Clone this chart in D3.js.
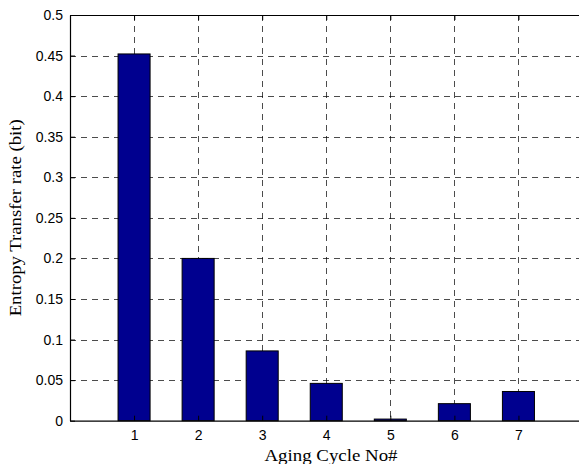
<!DOCTYPE html>
<html>
<head>
<meta charset="utf-8">
<script src="https://cdn.jsdelivr.net/npm/d3@7"></script>
<style>
  body { margin: 0; background: #fff; }
  .tick text { font-family: Arial, "Liberation Sans", sans-serif; font-size: 14px; fill: #000; }
  .lbl { font-family: "Times New Roman", "Liberation Serif", serif; font-size: 16px; fill: #000; }
</style>
</head>
<body>
<div id="chart"></div>
<script>
// data
var cycles = [1, 2, 3, 4, 5, 6, 7];
var entropy = [0.452, 0.200, 0.086, 0.046, 0.002, 0.021, 0.036];
var yTicks = [0, 0.05, 0.1, 0.15, 0.2, 0.25, 0.3, 0.35, 0.4, 0.45, 0.5];

var width = 579, height = 464;
var mLeft = 70, mTop = 15, mRight = 582.5, mBottom = 420.7;

var svg = d3.select('#chart')
            .append('svg')
            .attr('width', width)
            .attr('height', height)

var x = d3.scaleLinear().domain([0, 8]).range([mLeft, mRight]);
var y = d3.scaleLinear().domain([0, 0.5]).range([mBottom, mTop]);

// grid
var grid = svg.append('g')
    .attr('stroke', '#000')
    .attr('stroke-width', 1)
    .attr('stroke-dasharray', '6,5')
    .attr('stroke-opacity', 0.7)

grid.selectAll('.gx')
    .data(cycles)
    .enter()
    .append('line')
    .attr('x1', d => Math.round(x(d)) + 0.5)
    .attr('x2', d => Math.round(x(d)) + 0.5)
    .attr('y1', mTop)
    .attr('y2', mBottom)

grid.selectAll('.gy')
    .data(yTicks.slice(1, -1))
    .enter()
    .append('line')
    .attr('x1', mLeft)
    .attr('x2', mRight)
    .attr('y1', d => Math.round(y(d)) + 0.5)
    .attr('y2', d => Math.round(y(d)) + 0.5)

// bars
var barW = x(0.5) - x(0);
svg.selectAll('.bar')
    .data(entropy)
    .enter()
    .append('rect')
    .attr('class', 'bar')
    .attr('x', (d, i) => x(cycles[i]) - barW / 2)
    .attr('y', d => y(d))
    .attr('width', barW)
    .attr('height', d => y(0) - y(d))
    .attr('fill', '#00008f')
    .attr('stroke', '#000')
    .attr('stroke-width', 1)

// axes
var xAxis = d3.axisBottom(x).tickValues(cycles).tickSizeInner(-5).tickSizeOuter(0).tickPadding(9);
svg.append('g')
    .attr('transform', `translate(0,${mBottom})`)
    .call(xAxis)

var xTop = d3.axisTop(x).tickValues(cycles).tickSizeInner(-5).tickSizeOuter(0).tickFormat('');
svg.append('g')
    .attr('transform', `translate(0,${mTop})`)
    .call(xTop)

var yAxis = d3.axisLeft(y).tickValues(yTicks).tickSizeInner(-5).tickSizeOuter(0).tickPadding(7)
    .tickFormat(d => d === 0 ? '0' : String(d));
svg.append('g')
    .attr('transform', `translate(${mLeft},0)`)
    .call(yAxis)

svg.selectAll('.domain').attr('stroke', '#000').attr('stroke-width', 1.2);
svg.selectAll('.tick line').attr('stroke', '#000');

// labels
svg.append('text')
    .attr('class', 'lbl')
    .attr('x', 331)
    .attr('y', 461)
    .attr('text-anchor', 'middle')
    .attr('textLength', 133)
    .attr('lengthAdjust', 'spacingAndGlyphs')
    .text('Aging Cycle No#')

svg.append('text')
    .attr('class', 'lbl')
    .attr('transform', `translate(21,${(mTop + mBottom) / 2})rotate(-90)`)
    .attr('text-anchor', 'middle')
    .attr('textLength', 197)
    .attr('lengthAdjust', 'spacingAndGlyphs')
    .text('Entropy Transfer rate (bit)')
</script>
</body>
</html>
